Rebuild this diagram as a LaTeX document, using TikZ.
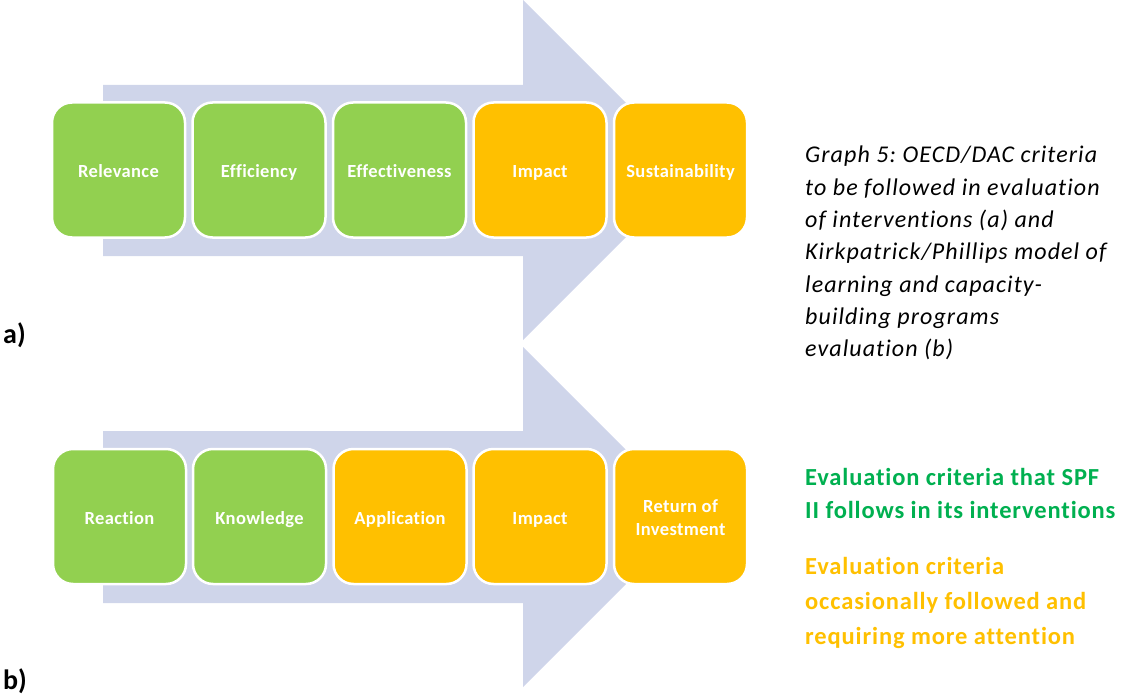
\documentclass[tikz,border=0pt]{standalone}
\usepackage{fontspec}
\setmainfont{Carlito}[Ligatures=NoCommon]
\frenchspacing
\definecolor{arrowfill}{HTML}{CFD5EA}
\definecolor{boxgreen}{HTML}{92D050}
\definecolor{boxorange}{HTML}{FFC000}
\definecolor{txtgreen}{HTML}{00B050}
\definecolor{txtorange}{HTML}{FFC000}
\tikzset{
  flow/.style={fill=arrowfill, draw=none},
  crit/.style={rounded corners=20pt, draw=white, line width=2.5pt,
    minimum width=133pt, minimum height=135pt, inner sep=2pt,
    text=white, align=center,
    font=\fontsize{18.5}{23}\selectfont\bfseries\addfontfeature{LetterSpace=2},
    execute at begin node={\rule[-7pt]{0pt}{30pt}}},
  good/.style={crit, fill=boxgreen},
  weak/.style={crit, fill=boxorange},
  panel/.style={font=\fontsize{28}{32}\selectfont\bfseries, inner sep=0pt, anchor=base west},
  sidetext/.style={anchor=north west, inner sep=0pt, align=left},
}
\begin{document}
\begin{tikzpicture}[x=1pt,y=-1pt]
\useasboundingbox (0,0) rectangle (1121,695);

% block arrows behind the criteria
\fill[flow] (103,85) -- (523,85) -- (523,0) -- (693,170) -- (523,340) -- (523,256) -- (103,256) -- cycle;
\fill[flow] (103,431) -- (523,431) -- (523,347) -- (693,517) -- (523,687) -- (523,603) -- (103,603) -- cycle;

% (a) OECD/DAC criteria
\node[good] (rel) at (118.5,170) {Relevance};
\node[good] (eff) at (259,170) {Efficiency};
\node[good] (efv) at (399.5,170) {Effectiveness};
\node[weak] (imp) at (540,170) {Impact};
\node[weak] (sus) at (680.5,170) {Sustainability};

% (b) Kirkpatrick/Phillips levels
\node[good] (rea) at (119.5,516.5) {Reaction};
\node[good] (kno) at (259.5,516.5) {Knowledge};
\node[weak] (app) at (400,516.5) {Application};
\node[weak] (imb) at (540,516.5) {Impact};
\node[weak] (roi) at (680.5,516.5) {\rule{0pt}{22pt}Return of\\\strut Investment};

% panel letters
\node[panel] (la) at (3,343) {a)};
\node[panel] (lb) at (3,689) {b)};

% caption
\node[sidetext,
  font=\fontsize{24}{32.3}\selectfont\itshape\addfontfeature{LetterSpace=4.5}] (cap) at (805,146)
  {Graph 5: OECD/DAC criteria\\
   to be followed in evaluation\\
   of interventions (a) and\\
   Kirkpatrick/Phillips model of\\
   learning and capacity-\\
   building programs\\
   evaluation (b)};

% legend
\node[sidetext, text=txtgreen,
  font=\fontsize{24.5}{33}\selectfont\bfseries\addfontfeature{LetterSpace=3.5}] (lgood) at (805,468)
  {Evaluation criteria that SPF\\ II follows in its interventions};
\node[sidetext, text=txtorange,
  font=\fontsize{24.5}{35}\selectfont\bfseries\addfontfeature{LetterSpace=3.5}] (lweak) at (805,557)
  {Evaluation criteria\\ occasionally followed and\\ requiring more attention};
\end{tikzpicture}
\end{document}
